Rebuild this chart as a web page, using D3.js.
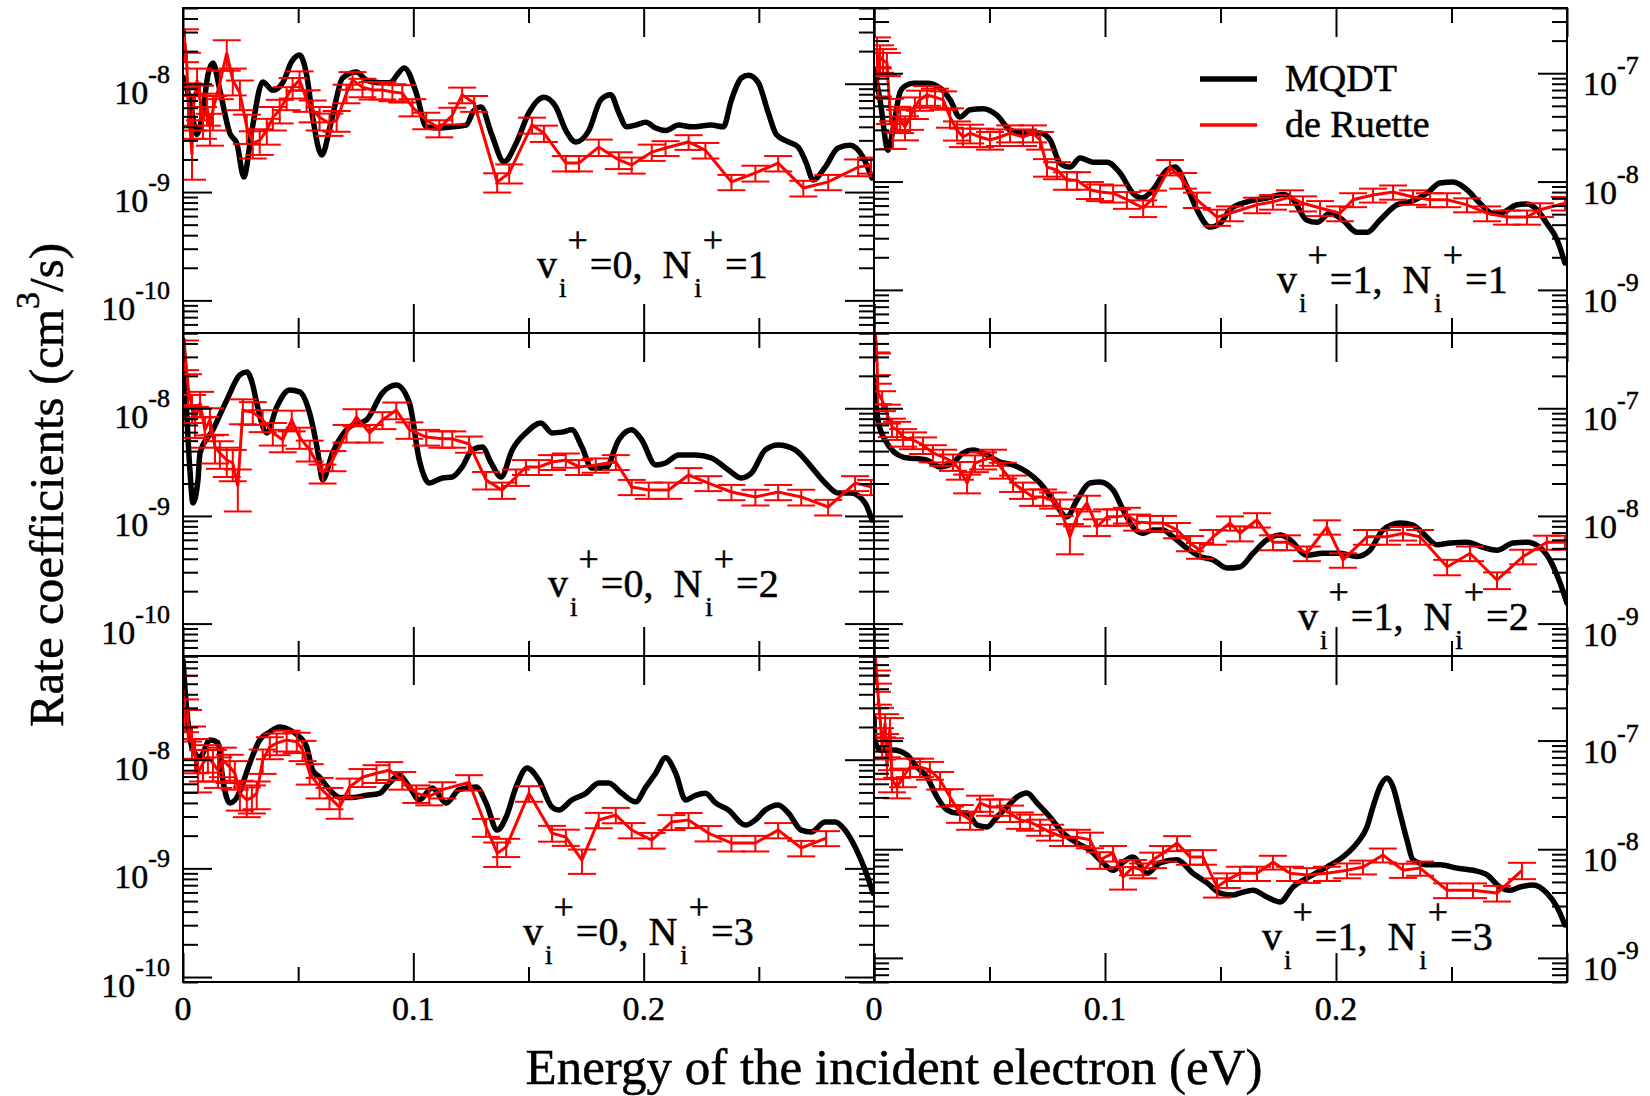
<!DOCTYPE html>
<html>
<head>
<meta charset="utf-8">
<script src="https://d3js.org/d3.v7.min.js"></script>
<style>
body{margin:0;background:#fff;}
svg, svg text{font-family:"Liberation Serif","Times New Roman",Times,serif;fill:#000;}
svg text{stroke:#000;stroke-width:0.5px;}
</style>
</head>
<body>
<div id="chart"></div>
<script>
// energies in eV, rate coefficients in units of 1e-9 cm^3/s
var UNIT_EXP = -9;

// ---- v+=0, N+=1 ----
var tlMqdt = [[0,11.5],[0.003,7.1],[0.006,3.4],[0.0087,5.7],[0.0108,12],[0.013,15.5],[0.016,8.7],[0.0203,3.5],[0.0234,2.8],[0.0264,1.38],[0.0299,3.7],[0.0346,10.4],[0.039,8.7],[0.0433,10.2],[0.0472,16],[0.0506,18.4],[0.0537,12],[0.0563,4.9],[0.0602,2.2],[0.0645,4.6],[0.0693,11.3],[0.0753,12.8],[0.0797,10.8],[0.0853,10.2],[0.0896,10.2],[0.0961,14],[0.1013,8.2],[0.1056,4.0],[0.1113,3.9],[0.1169,4.0],[0.1229,4.15],[0.1264,5.7],[0.1294,6.1],[0.1338,3.5],[0.1394,1.9],[0.1446,2.8],[0.1502,5.4],[0.1567,7.5],[0.1619,6.1],[0.1662,3.7],[0.1706,2.9],[0.1762,3.7],[0.1814,7.1],[0.1857,7.9],[0.1892,5.4],[0.1926,4.0],[0.1965,4.15],[0.2009,4.4],[0.2052,3.9],[0.2095,3.7],[0.2152,4.15],[0.2208,4.0],[0.2294,4.15],[0.2346,4.0],[0.2381,7.1],[0.2424,11.3],[0.2455,12],[0.2498,10.2],[0.2541,5.4],[0.2576,3.4],[0.2628,2.9],[0.2671,2.6],[0.2706,1.85],[0.2736,1.29],[0.2788,1.7],[0.2844,2.55],[0.2896,2.7],[0.2952,2.1],[0.2991,1.35]];
var tlRue = [[0.0009,23.8,8],[0.0017,14.3,5],[0.0022,7.1,3],[0.0039,2.2,0.9],[0.0043,5.7,2],[0.0061,10.8,3],[0.0074,7.1,2.5],[0.0087,4.6,1.5],[0.0104,6.1,2],[0.0117,3.98,1.3],[0.013,5.7,2],[0.016,10.2,3],[0.019,19.2,6],[0.0216,10.8,3],[0.0247,8.2,2.5],[0.0277,3.98,1.2],[0.0303,2.84,0.8],[0.0333,3.0,0.8],[0.0364,3.74,1.0],[0.039,4.9,1.2],[0.042,5.7,1.4],[0.045,7.5,1.8],[0.0476,9.3,2],[0.0506,10.8,2.2],[0.0537,7.1,1.6],[0.0563,5.7,1.3],[0.0593,4.9,1.2],[0.0636,4.3,1.0],[0.0667,4.6,1.0],[0.071,8.2,1.6],[0.0736,10.8,2],[0.0779,9.3,1.8],[0.0823,8.75,1.6],[0.0866,8.75,1.6],[0.0909,8.4,1.5],[0.0952,8.2,1.5],[0.0996,6.1,1.1],[0.1056,4.6,0.8],[0.1113,3.9,0.7],[0.1169,5.1,0.9],[0.1212,7.9,1.3],[0.1264,6.6,1.1],[0.1364,1.24,0.25],[0.1416,1.5,0.3],[0.1515,4.16,0.7],[0.1567,3.5,0.6],[0.1662,1.85,0.3],[0.1719,1.85,0.3],[0.1805,2.6,0.45],[0.1892,1.98,0.35],[0.1948,1.78,0.3],[0.2035,2.34,0.4],[0.2095,2.55,0.4],[0.2195,2.9,0.45],[0.2268,2.44,0.4],[0.2381,1.24,0.2],[0.2485,1.5,0.25],[0.2584,1.85,0.3],[0.2693,1.09,0.18],[0.2801,1.24,0.2],[0.2931,1.7,0.3],[0.2987,1.78,0.3]];

// ---- v+=1, N+=1 ----
var trMqdt = [[0,107],[0.0026,57],[0.0061,19.5],[0.0082,29.9],[0.0113,67],[0.0134,76],[0.0169,81],[0.0229,81],[0.0286,73],[0.0329,57],[0.0372,39.4],[0.0416,46],[0.0472,47],[0.0532,41],[0.0589,29.9],[0.0645,28],[0.0719,28],[0.0762,24.2],[0.0805,14.8],[0.0848,13.6],[0.0892,16.5],[0.0948,15.1],[0.1009,15.1],[0.1065,12.0],[0.1121,7.8],[0.116,7.05],[0.1208,8.4],[0.1268,12.8],[0.1303,13.6],[0.1355,8.9],[0.1398,5.5],[0.1455,3.8],[0.1498,4.1],[0.1541,5.5],[0.1615,6.5],[0.1701,7.05],[0.1771,7.6],[0.1814,6.8],[0.1874,4.4],[0.1918,4.2],[0.1974,5.1],[0.203,4.4],[0.2091,3.4],[0.2134,3.4],[0.219,4.4],[0.2264,6.1],[0.232,6.5],[0.2394,7.8],[0.245,9.7],[0.2507,9.9],[0.2567,8.4],[0.2623,6.3],[0.268,5.1],[0.2723,5.2],[0.2784,6.1],[0.2827,6.2],[0.287,5.5],[0.2913,4.1],[0.2957,2.9],[0.2991,1.77]];
var trRue = [[0.0013,164,50],[0.0017,86,25],[0.0026,141,40],[0.0039,132,35],[0.0056,124,30],[0.0069,46,12],[0.0082,28,8],[0.01,39,10],[0.0113,37,9],[0.0134,32,8],[0.0156,39,9],[0.0177,48.8,11],[0.0199,57,12],[0.0229,63,13],[0.0264,60,12],[0.0299,57,11],[0.0329,39.4,8],[0.0359,29.9,6],[0.0385,25.8,5],[0.0416,28,5.5],[0.0459,25.8,5],[0.0502,24.2,4.5],[0.0545,25.8,4.5],[0.0589,28,5],[0.0645,25.8,4.5],[0.0688,28,5],[0.0719,24.2,4.5],[0.0749,13.6,2.5],[0.0792,12.8,2.3],[0.0835,10.3,1.9],[0.0879,10.3,1.9],[0.0935,8.4,1.5],[0.0978,8.0,1.4],[0.1035,7.8,1.4],[0.1095,6.8,1.2],[0.1165,5.7,1.0],[0.1208,7.05,1.2],[0.1281,13.6,2.2],[0.1338,10.3,1.7],[0.1398,6.8,1.1],[0.1485,4.7,0.8],[0.1541,5.1,0.8],[0.1658,6.1,1.0],[0.1727,6.5,1.0],[0.1801,7.2,1.1],[0.1857,6.3,1.0],[0.1931,5.7,0.9],[0.2017,5.1,0.8],[0.2074,6.8,1.0],[0.216,7.5,1.1],[0.2247,8.0,1.2],[0.2333,7.2,1.1],[0.2407,6.8,1.0],[0.2481,6.8,1.0],[0.2567,6.1,0.9],[0.2654,5.1,0.8],[0.274,4.7,0.7],[0.2827,4.7,0.7],[0.2883,5.5,0.8],[0.2991,6.3,0.9]];

// ---- v+=0, N+=2 ----
var mlMqdt = [[0,43],[0.0009,18.3],[0.003,2.67],[0.0043,1.32],[0.0065,2.16],[0.0074,3.84],[0.013,6.3],[0.019,11.9],[0.0247,20.4],[0.0277,21.7],[0.0303,16.4],[0.032,11.2],[0.0364,5.9],[0.0407,10.3],[0.0463,14.8],[0.0506,14.2],[0.055,9.0],[0.0584,4.1],[0.0606,2.16],[0.0649,3.84],[0.0723,6.7],[0.0797,7.8],[0.0866,13.9],[0.0926,16.4],[0.0983,11.2],[0.1026,3.3],[0.1069,2.02],[0.1126,2.25],[0.1169,2.3],[0.1212,2.85],[0.1255,4.1],[0.1299,4.37],[0.1338,3.1],[0.1381,2.3],[0.1429,4.1],[0.1489,5.9],[0.1554,7.3],[0.1602,5.9],[0.1645,6.0],[0.1688,6.3],[0.1732,4.37],[0.1775,2.79],[0.1835,2.79],[0.1892,5.1],[0.1948,6.3],[0.1991,5.1],[0.2052,2.97],[0.2095,3.1],[0.2152,3.68],[0.2225,3.68],[0.2294,3.45],[0.2368,2.67],[0.2424,2.25],[0.2468,2.5],[0.2528,4.1],[0.2584,4.56],[0.2658,4.1],[0.2714,3.1],[0.2788,2.02],[0.2844,1.63],[0.29,1.63],[0.2961,1.32],[0.2991,0.92]];
var mlRue = [[0.0009,32.6,10],[0.0022,15.7,5],[0.0039,10.3,3],[0.0052,7.8,2.5],[0.0074,11.2,3],[0.0095,6.3,2],[0.0117,7.8,2.2],[0.0139,4.37,1.3],[0.016,3.84,1.1],[0.019,3.3,1.0],[0.0216,3.1,1.0],[0.0238,1.9,0.8],[0.026,9.6,2.5],[0.0303,9.2,2.2],[0.0346,7.8,1.8],[0.039,5.9,1.4],[0.0433,5.1,1.2],[0.0472,7.8,1.7],[0.0506,5.4,1.2],[0.055,4.1,0.9],[0.0606,2.5,0.5],[0.0649,3.3,0.7],[0.071,5.9,1.1],[0.0753,8.3,1.5],[0.081,5.9,1.1],[0.0866,7.8,1.4],[0.0926,9.6,1.7],[0.0983,6.3,1.1],[0.1056,5.4,0.9],[0.1126,5.2,0.9],[0.1169,5.2,0.9],[0.1242,4.66,0.8],[0.1316,2.16,0.4],[0.1385,1.74,0.3],[0.1446,2.3,0.4],[0.1489,2.85,0.45],[0.1545,2.85,0.45],[0.1602,3.17,0.5],[0.1662,3.3,0.5],[0.1719,2.85,0.45],[0.1792,2.97,0.45],[0.1879,3.17,0.5],[0.1948,1.86,0.3],[0.2022,1.74,0.3],[0.2108,1.74,0.3],[0.2195,2.4,0.38],[0.2281,2.02,0.32],[0.2381,1.67,0.27],[0.2485,1.5,0.25],[0.2584,1.67,0.27],[0.2684,1.5,0.25],[0.2801,1.21,0.2],[0.2918,2.02,0.32],[0.2987,1.86,0.3]];

// ---- v+=1, N+=2 ----
var mrMqdt = [[0,183],[0.0017,77.8],[0.0048,50.7],[0.0126,35.2],[0.0229,33.0],[0.0286,28.5],[0.0342,31.0],[0.0385,38.4],[0.0429,40.9],[0.0489,36.8],[0.0545,31.7],[0.0602,29.7],[0.0662,25.6],[0.0719,20.2],[0.0775,14.1],[0.0835,9.8],[0.0879,14.1],[0.0935,20.2],[0.0978,20.7],[0.1035,17.4],[0.1078,11.4],[0.1121,7.9],[0.1165,6.9],[0.1208,7.4],[0.1251,7.4],[0.1294,6.4],[0.1355,5.0],[0.1411,4.2],[0.1468,3.9],[0.1528,3.28],[0.1584,3.36],[0.1641,4.5],[0.1701,6.0],[0.1758,6.65],[0.1801,6.0],[0.1874,4.3],[0.1944,4.5],[0.2017,4.5],[0.2091,4.2],[0.2147,4.8],[0.2203,7.4],[0.2277,8.6],[0.2333,8.2],[0.2377,6.9],[0.2437,5.4],[0.2494,5.6],[0.2567,5.7],[0.2636,5.1],[0.2697,4.8],[0.2766,5.6],[0.2827,5.7],[0.2883,5.1],[0.2926,3.9],[0.297,2.38],[0.3,1.55]];
var mrRue = [[0.0009,430,100],[0.0013,263,60],[0.0017,139,30],[0.0035,119,25],[0.0056,90,18],[0.0078,67,13],[0.01,62.8,12],[0.0126,54,10],[0.0169,50.7,9],[0.0212,45.6,8],[0.0255,38.4,7],[0.0299,35.2,6],[0.0342,31.7,5.5],[0.0372,26.7,5],[0.0403,20.2,4],[0.0437,31.0,5.5],[0.0472,33.0,6],[0.0515,35.2,6],[0.0558,26.7,4.5],[0.0602,20.2,3.5],[0.0645,17.4,3],[0.0688,15.0,2.6],[0.0732,15.0,2.6],[0.0775,14.1,2.4],[0.0805,12.1,2.1],[0.0848,6.4,2.0],[0.0879,9.8,1.8],[0.0922,13.2,2.2],[0.0965,7.9,1.4],[0.1009,9.8,1.7],[0.1052,9.8,1.7],[0.1095,10.2,1.7],[0.1139,8.8,1.5],[0.1195,8.6,1.4],[0.1251,8.6,1.4],[0.1312,7.4,1.2],[0.1368,5.6,0.9],[0.1411,4.8,0.8],[0.1468,6.4,1.0],[0.1541,8.6,1.3],[0.1584,6.9,1.1],[0.1658,9.2,1.4],[0.1727,5.7,0.9],[0.1788,5.7,0.9],[0.1874,4.5,0.7],[0.1961,7.9,1.2],[0.203,3.9,0.6],[0.2134,6.4,1.0],[0.2221,6.4,1.0],[0.229,6.9,1.0],[0.2364,6.4,1.0],[0.2481,3.36,0.55],[0.258,4.5,0.7],[0.2697,2.54,0.45],[0.281,4.2,0.65],[0.2913,5.7,0.85],[0.2991,5.7,0.85]];

// ---- v+=0, N+=3 ----
var blMqdt = [[0,82.6],[0.0009,43.8],[0.0022,21.7],[0.0043,12.3],[0.0074,10.6],[0.0117,15.2],[0.0152,14.3],[0.0173,6.5],[0.0203,4.0],[0.0234,4.5],[0.026,6.1],[0.029,9.3],[0.0333,15.2],[0.0377,18.0],[0.042,20.0],[0.0463,18.8],[0.0506,16.2],[0.0537,13.1],[0.0563,8.0],[0.0593,6.9],[0.0636,5.3],[0.068,4.5],[0.0736,4.5],[0.0797,4.7],[0.0853,4.9],[0.0896,6.1],[0.0939,7.2],[0.0983,5.6],[0.1026,4.26],[0.1082,5.5],[0.1143,4.0],[0.1199,5.3],[0.1273,5.6],[0.1316,4.0],[0.1364,2.25],[0.1403,2.97],[0.1446,5.6],[0.1494,8.4],[0.1545,6.5],[0.1602,3.66],[0.1632,3.44],[0.1688,4.26],[0.1749,4.9],[0.1805,6.1],[0.1848,6.1],[0.1905,4.9],[0.1965,4.1],[0.2009,5.6],[0.2052,7.5],[0.2095,10.4],[0.2139,7.5],[0.2182,4.26],[0.2225,4.7],[0.2268,4.9],[0.2312,4.0],[0.2368,3.44],[0.2442,2.5],[0.2485,2.79],[0.2528,3.44],[0.2584,3.83],[0.2628,3.23],[0.2684,2.25],[0.2727,2.16],[0.2788,2.67],[0.2831,2.67],[0.2874,2.25],[0.2918,1.57],[0.2961,0.97],[0.2996,0.59]];
var blRue = [[0,43.8,15],[0.0009,26.9,9],[0.0022,21.7,7],[0.0039,15.2,5],[0.0052,11.5,4],[0.0065,7.5,2.5],[0.0087,9.3,3],[0.0108,10.6,3],[0.013,9.3,3],[0.0152,8.0,2.5],[0.0173,9.9,3],[0.0203,8.6,2.5],[0.0225,7.5,2.2],[0.0247,4.9,1.5],[0.0277,4.26,1.3],[0.0299,4.5,1.3],[0.032,4.9,1.4],[0.0346,9.9,2.5],[0.0377,13.1,3],[0.0407,14.2,3.2],[0.045,15.2,3.3],[0.0494,14.6,3.1],[0.0519,12.3,2.6],[0.055,7.5,1.6],[0.0593,5.6,1.2],[0.0636,4.5,1.0],[0.068,3.66,0.8],[0.0723,5.6,1.1],[0.0779,6.9,1.3],[0.084,7.5,1.4],[0.0896,8.0,1.5],[0.0952,6.5,1.2],[0.1013,4.9,0.9],[0.1069,4.6,0.8],[0.1126,5.3,0.9],[0.1242,6.2,1.0],[0.1316,2.4,0.45],[0.1364,1.38,0.35],[0.1403,1.57,0.3],[0.1502,4.9,0.8],[0.1602,2.11,0.35],[0.1662,1.94,0.33],[0.1732,1.19,0.3],[0.1805,2.79,0.45],[0.1879,3.1,0.5],[0.1948,2.25,0.36],[0.2035,1.82,0.3],[0.2121,2.67,0.42],[0.2195,2.79,0.44],[0.2281,2.11,0.34],[0.2381,1.71,0.28],[0.2485,1.71,0.28],[0.2584,2.25,0.36],[0.2684,1.54,0.25],[0.2792,1.9,0.3]];

// ---- v+=1, N+=3 ----
var brMqdt = [[0,165],[0.0004,101],[0.0026,81.8],[0.0082,81.8],[0.0143,73.6],[0.0186,57.1],[0.0229,46.2],[0.0273,30.2],[0.0316,23.0],[0.0359,21.5],[0.0403,21.5],[0.0446,16.7],[0.0489,16.0],[0.0532,19.8],[0.0576,24.5],[0.0619,30.2],[0.0662,32.9],[0.0706,26.6],[0.0762,19.8],[0.0818,14.1],[0.0879,11.4],[0.0935,9.8],[0.0991,7.5],[0.1035,6.4],[0.1078,7.6],[0.1121,8.5],[0.1182,6.0],[0.1238,7.5],[0.1312,8.0],[0.1381,6.0],[0.1442,4.9],[0.1498,3.95],[0.1554,3.79],[0.1584,3.95],[0.1641,4.2],[0.1701,3.63],[0.1758,3.27],[0.1814,4.49],[0.1874,5.43],[0.1961,6.86],[0.203,8.5],[0.2091,11.4],[0.2134,16.0],[0.216,24.5],[0.219,37.4],[0.2221,45.2],[0.2247,37.4],[0.2277,21.5],[0.2307,12.2],[0.2333,8.0],[0.2394,7.2],[0.245,7.2],[0.2524,6.7],[0.2593,6.4],[0.2654,5.8],[0.271,4.49],[0.2753,4.2],[0.2797,4.49],[0.2853,4.69],[0.2913,3.95],[0.2957,2.94],[0.2991,2.01]];
var brRue = [[0.0009,517,120],[0.0013,361,80],[0.0017,274,60],[0.0026,165,35],[0.0035,87,20],[0.0048,145,30],[0.0056,57.1,13],[0.0069,133,28],[0.0078,43.4,10],[0.01,37.4,8],[0.0126,46.2,9],[0.0156,57.1,11],[0.0199,57.1,11],[0.0242,53.6,10],[0.0286,43.4,8],[0.0329,30.2,5.5],[0.0372,21.5,4],[0.0416,18.6,3.5],[0.0459,26.6,4.5],[0.0502,24.5,4.2],[0.0545,24.5,4.2],[0.0589,21.5,3.7],[0.0632,18.6,3.2],[0.0675,17.8,3],[0.0719,16.0,2.7],[0.0762,14.4,2.4],[0.0818,12.9,2.2],[0.0879,12.9,2.2],[0.0935,12.2,2.0],[0.0978,8.0,1.4],[0.1035,9.2,1.5],[0.1078,5.55,1.3],[0.1121,6.86,1.1],[0.1165,6.4,1.0],[0.1208,8.0,1.3],[0.1251,9.2,1.5],[0.1312,11.4,1.8],[0.1368,8.5,1.3],[0.1424,8.5,1.3],[0.1485,4.49,0.9],[0.1528,5.2,0.8],[0.1584,6.0,0.9],[0.1658,6.0,0.9],[0.1727,7.6,1.1],[0.1801,6.0,0.9],[0.1874,5.8,0.9],[0.1961,6.0,0.9],[0.2048,6.4,1.0],[0.2117,6.86,1.0],[0.2203,8.85,1.3],[0.229,6.4,0.95],[0.2364,6.7,1.0],[0.2481,4.2,0.65],[0.2593,4.2,0.65],[0.2697,3.95,0.65],[0.2805,6.4,1.1]];

// panel order: row by row, left then right
var mqdtSets = [tlMqdt, trMqdt, mlMqdt, mrMqdt, blMqdt, brMqdt];
var rueSets = [tlRue, trRue, mlRue, mrRue, blRue, brRue];
var yDomains = [[0.05,50],[0.4,400],[0.05,50],[0.5,500],[0.09,90],[0.6,600]];
var vibLevels = [0,1,0,1,0,1];
var rotLevels = [1,1,2,2,3,3];
var xDomain = [0,0.3];
var xMajor = [0,0.1,0.2,0.3];
var xMinor = [0.05,0.15,0.25];
var xTickLabels = ["0","0.1","0.2"];
var seriesNames = ["MQDT","de Ruette"];

// layout
var W = 1650, H = 1096;
var cols = [[183,874],[874,1567]];
var rows = [[8,333],[333,656],[656,982]];
var notePos = [[537,278],[1277,293],[548,597],[1298,630],[523,945],[1262,950]];
var RED = "#ff0000";
var SERIF = '"Liberation Serif","Times New Roman",Times,serif';

var svg = d3.select("#chart").append("svg")
	.attr("width",W).attr("height",H)
	.style("background","#fff")
	.style("font-family",SERIF);
var defs = svg.append("defs");

function logTicks(dom){
	var major = [], minor = [];
	for (var p = Math.floor(Math.log10(dom[0])); p <= Math.ceil(Math.log10(dom[1])); p++) {
		for (var m = 1; m < 10; m++) {
			var v = m*Math.pow(10,p);
			if (v < dom[0]*0.999 || v > dom[1]*1.001) continue;
			if (m == 1) major.push(v); else minor.push(v);
		}
	}
	return {major:major, minor:minor};
}

function styleTicks(sel){
	sel.select(".domain").remove();
	sel.selectAll("line").attr("stroke","#000").attr("stroke-width",2);
}

mqdtSets.forEach(function(mqdt,i){
	var c = cols[i%2], r = rows[Math.floor(i/2)];
	var x = d3.scaleLinear().domain(xDomain).range(c);
	var y = d3.scaleLog().domain(yDomains[i]).range([r[1],r[0]]);
	var g = svg.append("g");

	defs.append("clipPath").attr("id","clip"+i).append("rect")
		.attr("x",c[0]).attr("y",r[0]).attr("width",c[1]-c[0]).attr("height",r[1]-r[0]);
	var plot = g.append("g").attr("clip-path","url(#clip"+i+")");

	// MQDT curve
	plot.append("path").datum(mqdt)
		.attr("d",d3.line().x(function(d){return x(d[0]);}).y(function(d){return y(d[1]);}).curve(d3.curveMonotoneX))
		.attr("fill","none").attr("stroke","#000").attr("stroke-width",5.5)
		.attr("stroke-linejoin","round").attr("stroke-linecap","round");

	// de Ruette data with error bars
	var rue = rueSets[i];
	plot.append("path").datum(rue)
		.attr("d",d3.line().x(function(d){return x(d[0]);}).y(function(d){return y(d[1]);}))
		.attr("fill","none").attr("stroke",RED).attr("stroke-width",3);
	var bars = plot.append("g").attr("stroke",RED).attr("stroke-width",2);
	rue.forEach(function(d){
		var px = x(d[0]), lo = y(d[1]-d[2]), hi = y(d[1]+d[2]);
		bars.append("line").attr("x1",px).attr("x2",px).attr("y1",lo).attr("y2",hi);
		bars.append("line").attr("x1",px-14).attr("x2",px+14).attr("y1",lo).attr("y2",lo);
		bars.append("line").attr("x1",px-14).attr("x2",px+14).attr("y1",hi).attr("y2",hi);
	});

	// frame
	g.append("rect").attr("x",c[0]).attr("y",r[0]).attr("width",c[1]-c[0]).attr("height",r[1]-r[0])
		.attr("fill","none").attr("stroke","#000").attr("stroke-width",2);

	// inward ticks on all four sides
	var yt = logTicks(yDomains[i]);
	[[yt.major,-29],[yt.minor,-15]].forEach(function(t){
		g.append("g").attr("transform","translate("+c[0]+",0)")
			.call(d3.axisLeft(y).tickValues(t[0]).tickSize(t[1]).tickFormat("")).call(styleTicks);
		g.append("g").attr("transform","translate("+c[1]+",0)")
			.call(d3.axisRight(y).tickValues(t[0]).tickSize(t[1]).tickFormat("")).call(styleTicks);
	});
	[[xMajor,-29],[xMinor,-15]].forEach(function(t){
		g.append("g").attr("transform","translate(0,"+r[0]+")")
			.call(d3.axisTop(x).tickValues(t[0]).tickSize(t[1]).tickFormat("")).call(styleTicks);
		g.append("g").attr("transform","translate(0,"+r[1]+")")
			.call(d3.axisBottom(x).tickValues(t[0]).tickSize(t[1]).tickFormat("")).call(styleTicks);
	});

	// y tick labels: left column on the left, right column on the right
	yt.major.forEach(function(v){
		var ex = Math.round(Math.log10(v)) + UNIT_EXP;
		var t = g.append("text").attr("font-size",34).attr("font-family",SERIF);
		if (i%2 == 0) t.attr("x",c[0]-13).attr("y",y(v)+20).attr("text-anchor","end");
		else t.attr("x",c[1]+16).attr("y",y(v)+22).attr("text-anchor","start");
		t.append("tspan").text("10");
		t.append("tspan").attr("font-size",26).attr("dy",-21).text(ex);
	});

	// x tick labels on the bottom row only
	if (Math.floor(i/2) == 2) {
		xTickLabels.forEach(function(s,k){
			g.append("text").attr("x",x(xMajor[k])).attr("y",1020).attr("text-anchor","middle")
				.attr("font-size",34).attr("font-family",SERIF).text(s);
		});
	}

	// panel note  v_i^+ = .., N_i^+ = ..
	var n = g.append("text").attr("x",notePos[i][0]).attr("y",notePos[i][1])
		.attr("font-size",40).attr("font-family",SERIF);
	n.append("tspan").text("v");
	n.append("tspan").attr("font-size",27).attr("dx",2).attr("dy",19).text("i");
	n.append("tspan").attr("font-size",36).attr("dx",1).attr("dy",-45).text("+");
	n.append("tspan").attr("dx",2).attr("dy",26).text("=" + vibLevels[i] + ",");
	n.append("tspan").attr("dx",20).text("N");
	n.append("tspan").attr("font-size",27).attr("dx",3).attr("dy",19).text("i");
	n.append("tspan").attr("font-size",36).attr("dx",1).attr("dy",-45).text("+");
	n.append("tspan").attr("dx",2).attr("dy",26).text("=" + rotLevels[i]);
});

// legend
var lg = svg.append("g");
[["#000",5.5,79,91],[RED,3.5,125,137]].forEach(function(s,k){
	lg.append("line").attr("x1",1200).attr("x2",1257).attr("y1",s[2]).attr("y2",s[2])
		.attr("stroke",s[0]).attr("stroke-width",s[1]);
	lg.append("text").attr("x",1285).attr("y",s[3]).attr("font-size",38)
		.attr("font-family",SERIF).text(seriesNames[k]);
});

// axis titles
svg.append("text").attr("x",894).attr("y",1084).attr("text-anchor","middle")
	.attr("font-size",51).attr("font-family",SERIF).text("Energy of the incident electron (eV)");
var ytl = svg.append("text").attr("transform","translate(63,485) rotate(-90)")
	.attr("text-anchor","middle").attr("font-size",49).attr("font-family",SERIF);
ytl.append("tspan").text("Rate coefficients (cm");
ytl.append("tspan").attr("font-size",34).attr("dy",-24).text("3");
ytl.append("tspan").attr("dy",24).text("/s)");
</script>
</body>
</html>
